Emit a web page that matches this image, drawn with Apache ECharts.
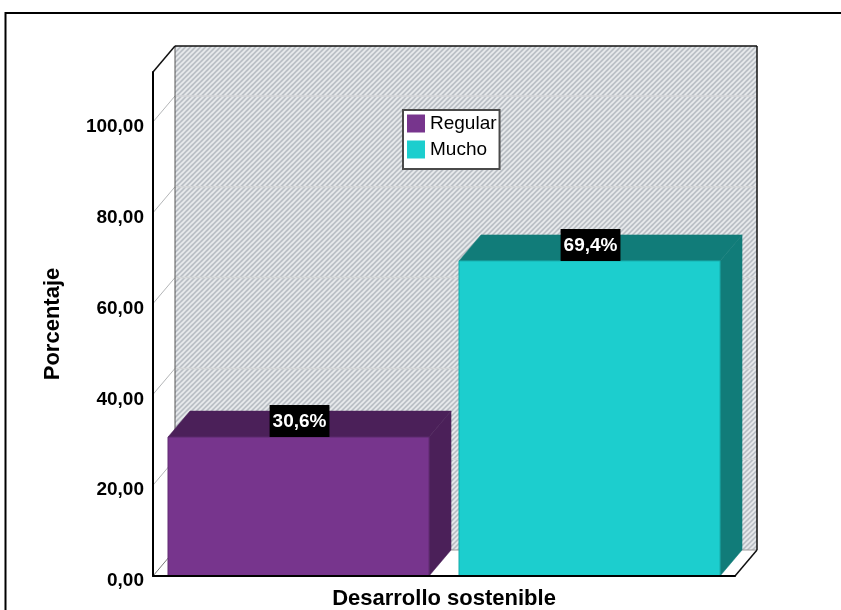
<!DOCTYPE html>
<html>
<head>
<meta charset="utf-8">
<script src="https://cdn.jsdelivr.net/npm/echarts@6/dist/echarts.min.js"></script>
<style>
  html, body { margin: 0; padding: 0; background: #fff; }
  #chart { width: 841px; height: 610px; }
</style>
</head>
<body>
<div id="chart"></div>
<script>
// ---- data ----
const categories = ['Desarrollo sostenible'];
const seriesNames = ['Regular', 'Mucho'];
const regularValues = [30.6];
const muchoValues = [69.4];
const yTicks = [0, 20, 40, 60, 80, 100];
const yMax = 111;

// ---- styling constants ----
const FONT = '"Liberation Sans", Arial, sans-serif';
const DEPTH_X = 22;     // oblique depth of the 3D box
const DEPTH_Y = -26;
const EDGE_GAP = 0.0258; // space between the band edge and the first/last bar
const BAR_W = 0.4485;    // bar width as a share of the category band
const BAR_GAP = 0.0515;  // space between the two bars
const faceColors = {
  Regular: { front: '#77358d', dark: '#4b2059', edge: '#5e2a70' },
  Mucho:   { front: '#1ccece', dark: '#117c79', edge: '#16a9a8' }
};

// diagonal hatch used on the back wall
function makeHatch() {
  const s = 5;
  const c = document.createElement('canvas');
  c.width = s; c.height = s;
  const g = c.getContext('2d');
  g.fillStyle = '#bbc0c6';
  g.fillRect(0, 0, s, s);
  g.strokeStyle = '#e9ebed';
  g.lineWidth = 1.6;
  g.beginPath();
  g.moveTo(-1, s + 1); g.lineTo(s + 1, -1);
  g.moveTo(-1, 1); g.lineTo(1, -1);
  g.moveTo(s - 1, s + 1); g.lineTo(s + 1, s - 1);
  g.stroke();
  return c;
}
const hatch = makeHatch();

function seg(x1, y1, x2, y2, stroke, lineWidth) {
  return { type: 'line', shape: { x1, y1, x2, y2 }, style: { stroke, lineWidth } };
}

// back wall, side wall, floor and the grid lines drawn on them
function renderFrame(params, api) {
  const cs = params.coordSys;
  const x0 = cs.x, x1 = cs.x + cs.width;
  const yT = cs.y, yB = cs.y + cs.height;
  const dx = DEPTH_X, dy = DEPTH_Y;
  const ch = [];
  ch.push({ type: 'rect', shape: { x: x0 + dx, y: yT + dy, width: cs.width, height: cs.height },
            style: { fill: { image: hatch, repeat: 'repeat' } } });
  ch.push({ type: 'polygon', shape: { points: [[x0, yT], [x0 + dx, yT + dy], [x0 + dx, yB + dy], [x0, yB]] },
            style: { fill: '#fff' } });
  ch.push({ type: 'polygon', shape: { points: [[x0, yB], [x0 + dx, yB + dy], [x1 + dx, yB + dy], [x1, yB]] },
            style: { fill: '#fff' } });
  yTicks.forEach(function (v) {
    if (v === 0) return;
    const y = api.coord([0, v])[1];
    ch.push(seg(x0 + dx, y + dy, x1 + dx, y + dy, '#d4d6d8', 1.5));
    ch.push(seg(x0, y, x0 + dx, y + dy, '#b4b6b8', 1));
  });
  ch.push(seg(x0 + dx, yB + dy, x1 + dx, yB + dy, '#9a9a9a', 1));
  ch.push(seg(x0, yB, x0 + dx, yB + dy, '#777', 1));
  ch.push(seg(x0 + dx, yT + dy, x0 + dx, yB + dy, '#555', 1));
  ch.push(seg(x0 + dx, yT + dy, x1 + dx, yT + dy, '#111', 1.5));
  ch.push(seg(x1 + dx, yT + dy, x1 + dx, yB + dy, '#111', 1.5));
  ch.push(seg(x0, yT, x0 + dx, yT + dy, '#111', 1.5));
  ch.push(seg(x1, yB, x1 + dx, yB + dy, '#111', 1.5));
  return { type: 'group', children: ch };
}

// a 3D bar: front face, top face, right side face and a value tag
function makeBarRenderer(slot, name) {
  const col = faceColors[name];
  return function (params, api) {
    const cat = api.value(0), val = api.value(1);
    const band = api.size([1, 0])[0];
    const base = api.coord([cat, 0]);
    const bandStart = base[0] - band / 2;
    const left = bandStart + band * (EDGE_GAP + slot * (BAR_W + BAR_GAP));
    const right = left + band * BAR_W;
    const yBase = base[1];
    const yTop = api.coord([cat, val])[1];
    const dx = DEPTH_X, dy = DEPTH_Y;
    const tag = val.toFixed(1).replace('.', ',') + '%';
    return {
      type: 'group',
      children: [
        { type: 'polygon', shape: { points: [[right, yTop], [right + dx, yTop + dy], [right + dx, yBase + dy], [right, yBase]] },
          style: { fill: col.dark, stroke: col.dark, lineWidth: 0.5 } },
        { type: 'polygon', shape: { points: [[left, yTop], [left + dx, yTop + dy], [right + dx, yTop + dy], [right, yTop]] },
          style: { fill: col.dark, stroke: col.dark, lineWidth: 0.5 } },
        { type: 'rect', shape: { x: left, y: yTop, width: right - left, height: yBase - yTop },
          style: { fill: col.front, stroke: col.edge, lineWidth: 1 } },
        { type: 'text', x: (left + right) / 2 + 1, y: yTop,
          style: { text: tag, fill: '#fff', font: 'bold 19px ' + FONT, align: 'center', verticalAlign: 'bottom',
                   backgroundColor: '#000', padding: [7, 3, 6, 3], lineHeight: 19 } }
      ]
    };
  };
}

const chart = echarts.init(document.getElementById('chart'), null, { renderer: 'canvas' });
chart.setOption({
  animation: false,
  textStyle: { fontFamily: FONT },
  grid: { left: 153, right: 106, top: 72, bottom: 34, containLabel: false, outerBoundsMode: 'none' },
  legend: {
    data: seriesNames,
    orient: 'vertical',
    left: 403, top: 110,
    padding: [4, 3, 10, 4],
    itemWidth: 18, itemHeight: 18, itemGap: 7,
    icon: 'rect',
    backgroundColor: '#fff',
    borderColor: '#4a4a4a', borderWidth: 2, borderRadius: 0,
    selectedMode: false,
    textStyle: { fontSize: 19, color: '#000', lineHeight: 18, fontFamily: FONT }
  },
  xAxis: {
    type: 'category',
    data: categories,
    z: 10,
    axisLine: { show: true, lineStyle: { color: '#000', width: 2 } },
    axisTick: { show: false },
    splitLine: { show: false },
    axisLabel: { margin: 12, fontWeight: 'bold', fontSize: 22, color: '#000', fontFamily: FONT }
  },
  yAxis: {
    type: 'value',
    min: 0, max: yMax, interval: 20,
    z: 10,
    name: 'Porcentaje',
    nameLocation: 'middle',
    nameGap: 89,
    nameTextStyle: { fontWeight: 'bold', fontSize: 22, color: '#000', fontFamily: FONT },
    axisLine: { show: true, lineStyle: { color: '#000', width: 2 } },
    axisTick: { show: false },
    splitLine: { show: false },
    axisLabel: {
      margin: 9, fontWeight: 'bold', fontSize: 19, color: '#000', fontFamily: FONT,
      verticalAlign: 'top', lineHeight: 10,
      formatter: function (v) { return yTicks.indexOf(v) >= 0 ? v.toFixed(2).replace('.', ',') : ''; }
    }
  },
  graphic: [{
    type: 'rect', z: 100, silent: true,
    shape: { x: 5.5, y: 13, width: 1000, height: 1000 },
    style: { fill: null, stroke: '#000', lineWidth: 2 }
  }],
  series: [
    { type: 'custom', name: 'frame', z: 1, silent: true, data: [[0, 0]], encode: { x: 0, y: 1 },
      renderItem: renderFrame },
    { type: 'custom', name: 'Regular', z: 2, itemStyle: { color: faceColors.Regular.front },
      data: regularValues.map(function (v, i) { return [i, v]; }), encode: { x: 0, y: 1 },
      renderItem: makeBarRenderer(0, 'Regular') },
    { type: 'custom', name: 'Mucho', z: 2, itemStyle: { color: faceColors.Mucho.front },
      data: muchoValues.map(function (v, i) { return [i, v]; }), encode: { x: 0, y: 1 },
      renderItem: makeBarRenderer(1, 'Mucho') }
  ]
});
</script>
</body>
</html>
